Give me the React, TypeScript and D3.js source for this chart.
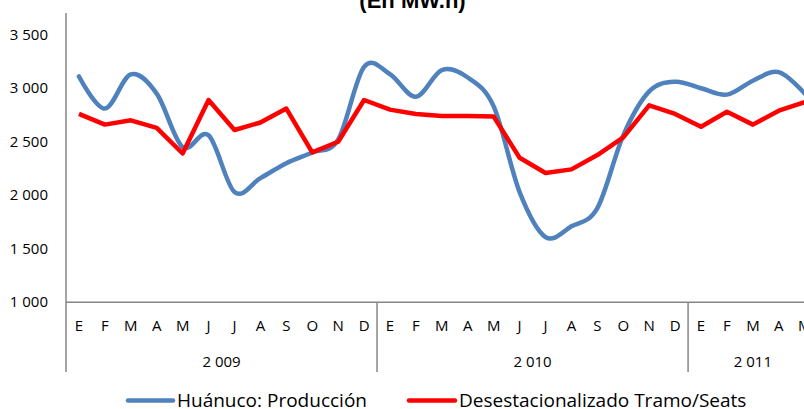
import React from "react";
import * as d3 from "d3";

const months = ["E","F","M","A","M","J","J","A","S","O","N","D","E","F","M","A","M","J","J","A","S","O","N","D","E","F","M","A","M"];
const years = ["2 009", "2 010", "2 011"];
const yearSpans = [12, 12, 5];
const produccion = [3110,2810,3130,2950,2450,2560,2030,2160,2300,2400,2520,3200,3130,2920,3170,3100,2830,2030,1610,1710,1880,2560,2970,3060,3000,2940,3070,3150,2950];
const desestacionalizado = [2760,2660,2700,2630,2390,2890,2610,2680,2810,2400,2500,2890,2800,2760,2740,2740,2735,2350,2208,2242,2376,2540,2840,2760,2640,2780,2660,2790,2870];
const yTicks = [1000,1500,2000,2500,3000,3500];
const seriesNames = ["Huánuco: Producción", "Desestacionalizado Tramo/Seats"];
const title = "(En MW.h)";

const W = 804, H = 409;
const left = 66, bw = 25.92;
const fmt = (v: number) => d3.format(",")(v).replace(/,/g, " ");

export default function App() {
  const x = d3.scaleBand<number>().domain(months.map((_, i) => i)).range([left, left + months.length * bw]).padding(0);
  const y = d3.scaleLinear().domain([1000, 3500]).range([302.3, 34.7]);
  const cx = (i: number) => (x(i) as number) + x.bandwidth() / 2;
  const smooth = d3.line<number>().x((_, i) => cx(i)).y(d => y(d)).curve(d3.curveCardinal.tension(0));
  const straight = d3.line<number>().x((_, i) => cx(i)).y(d => y(d));
  const axisColor = "#868686";
  const font = "'Open Sans', sans-serif";
  const y0 = y(1000);
  let acc = 0;
  const bounds = yearSpans.map(s => { const start = acc; acc += s; return [start, acc]; });
  return (
    <svg width={W} height={H} style={{ position: "absolute", left: 0, top: 0, background: "#fff" }}>
      <text x={412.5} y={8} textAnchor="middle" fontFamily="Arial, 'Liberation Sans', sans-serif" fontWeight="bold" fontSize={22}>{title}</text>
      {yTicks.map(t => (
        <text key={t} x={48} y={y(t) + 5} textAnchor="end" fontFamily={font} fontSize={15} fill="#000">{fmt(t)}</text>
      ))}
      <line x1={left} x2={left} y1={13} y2={372} stroke={axisColor} strokeWidth={1.5} />
      <line x1={left} x2={W} y1={y0} y2={y0} stroke={axisColor} strokeWidth={1.5} />
      {bounds.map(([s, e], k) => (
        <g key={k}>
          {k > 0 && <line x1={x(s) as number} x2={x(s) as number} y1={y0} y2={372} stroke={axisColor} strokeWidth={1.5} />}
          <text x={((x(s) as number) + (x(e - 1) as number) + bw) / 2} y={367} textAnchor="middle" fontFamily={font} fontSize={15}>{years[k]}</text>
        </g>
      ))}
      {months.map((m, i) => (
        <text key={i} x={cx(i)} y={331} textAnchor="middle" fontFamily={font} fontSize={15}>{m}</text>
      ))}
      <path d={smooth(produccion) || ""} fill="none" stroke="#4F81BD" strokeWidth={4.5} strokeLinejoin="round" strokeLinecap="round" />
      <path d={straight(desestacionalizado) || ""} fill="none" stroke="#FF0000" strokeWidth={4.5} strokeLinejoin="round" />
      <line x1={128} x2={173} y1={400.5} y2={400.5} stroke="#4F81BD" strokeWidth={4.5} strokeLinecap="round" />
      <text x={177} y={407} fontFamily={font} fontSize={19}>{seriesNames[0]}</text>
      <line x1={409} x2={455} y1={400.5} y2={400.5} stroke="#FF0000" strokeWidth={4.5} strokeLinecap="round" />
      <text x={459} y={407} fontFamily={font} fontSize={19}>{seriesNames[1]}</text>
    </svg>
  );
}
